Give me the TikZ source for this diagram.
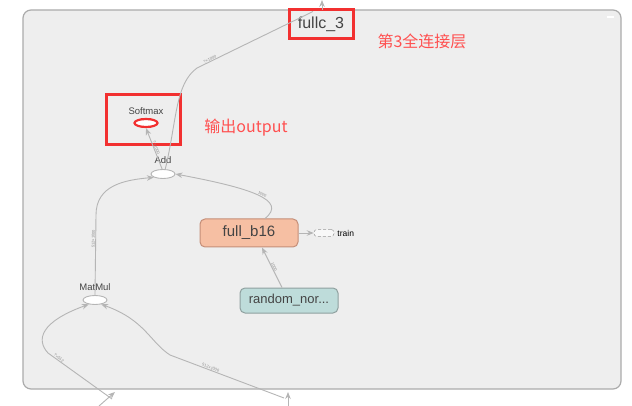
\documentclass[tikz,border=0pt]{standalone}
\usepackage{fontspec}
\setmainfont{Liberation Sans}
\newfontfamily\cjk{Noto Sans CJK SC}
\usetikzlibrary{arrows,arrows.meta,positioning,shapes.geometric,calc}

\definecolor{panelbg}{HTML}{EEEEEE}
\definecolor{paneldraw}{HTML}{ABABAB}
\definecolor{edgegray}{HTML}{B5B5B5}
\definecolor{boxred}{HTML}{F23030}
\definecolor{notered}{HTML}{FF5050}
\definecolor{biasfill}{HTML}{F6BFA3}
\definecolor{biasdraw}{HTML}{C48E78}
\definecolor{randfill}{HTML}{BEDCDA}
\definecolor{randdraw}{HTML}{8FA09F}
\definecolor{txtgray}{HTML}{444444}

\begin{document}
\begin{tikzpicture}[x=1pt, y=-1pt, >={Stealth[length=7pt,width=5.5pt]}]
	\tikzstyle{op}=[ellipse, draw=edgegray, fill=white, line width=0.9pt, minimum width=24pt, minimum height=9pt, inner sep=0pt]
	\tikzstyle{oplabel}=[font=\fontsize{9.5}{10}\selectfont, text=txtgray, inner sep=0pt]
	\tikzstyle{group}=[rounded corners=5pt, line width=1pt, minimum width=98pt, inner sep=0pt, text=txtgray]
	\tikzstyle{flow}=[->, draw=edgegray, line width=0.9pt]
	\tikzstyle{tensor}=[sloped, font=\fontsize{4}{4}\selectfont, text=gray!90, inner sep=0.5pt]
	\tikzstyle{redbox}=[draw=boxred, line width=3pt]
	\tikzstyle{note}=[text=notered, font=\cjk\fontsize{16}{17}\selectfont]

	\useasboundingbox (0,0) rectangle (632,406);
	% panel
	\draw[fill=panelbg, draw=paneldraw, line width=1.2pt, rounded corners=8pt] (23,10) rectangle (621,389);
	\draw[white, line width=1.2pt] (607,17) -- (614,17);

	% ops
	\node[op, draw=boxred, line width=2.2pt, minimum width=23pt, minimum height=8pt] (softmax) at (146,123) {};
	\node[oplabel] (softmaxl) at (146,111) {Softmax};
	\node[op]  (add) at (163,174) {};
	\node[oplabel] (addl) at (163,160) {Add};
	\node[op]  (matmul) at (95,300) {};
	\node[oplabel] (matmull) at (95,287) {MatMul};

	% groups
	\node[group, fill=biasfill, draw=biasdraw, minimum height=28pt, font=\fontsize{15}{16}\selectfont] (bias) at (249,233) {full\_b16};
	\node[group, fill=randfill, draw=randdraw, minimum height=25pt, font=\fontsize{13}{14}\selectfont] (rand) at (289,300.5) {random\_nor...};
	\node[draw=gray!80, densely dashed, rounded corners=3pt, minimum width=20pt, minimum height=7pt, inner sep=0pt, fill=white!60!panelbg, line width=0.5pt] (train) at (324,233) {};
	\node[font=\fontsize{8.5}{9}\selectfont, inner sep=0pt, right=3pt of train] (trainl) {train};

	% highlighted
	\node[redbox, minimum width=64pt, minimum height=29pt, inner sep=0pt, font=\fontsize{16}{17}\selectfont, text=txtgray] (fullc) at (321,24.5) {fullc\_3};
	\node[redbox, minimum width=74pt, minimum height=50pt] (outbox) at (143,120) {};
	\node[note] (fullcnote) at (422,41) {第3全连接层};
	\node[note] (outnote) at (246,128) {输出output};

	% loose ends outside the view
	\coordinate (fctop) at (313,11.5);
	\coordinate (upA) at (322,10);
	\coordinate (upB) at (322,0);
	\coordinate (inA) at (112,399);
	\coordinate (inAsrc) at (99,406);
	\coordinate (inAend) at (115,392);
	\coordinate (inB) at (284,398);
	\coordinate (inBsrc) at (288,406);
	\coordinate (inBend) at (288,392);

	% edges
	\draw[flow] (add.100) -- (softmax.south)
		node[tensor, pos=0.5, above] {?×1000};
	\draw[flow, -] (add.65) .. controls (177,120) and (175,84) .. (197,68)
		-- node[tensor, pos=0.12, above] {?×1000} (fctop);
	\draw[flow] (upA) -- (upB);
	\draw[flow] (matmul.north) -- (96,215)
		node[tensor, pos=0.7, above] {512×1000}
		.. controls (96,185) and (125,180) .. (add.200);
	\draw[flow] ([xshift=16pt]bias.north) .. controls (288,200) and (250,188) .. (add.east)
		node[tensor, pos=0.45, above] {1000};
	\draw[flow] (bias.east) -- (train.west);
	\draw[flow] ([xshift=-7pt]rand.north) -- ([xshift=13pt]bias.south)
		node[tensor, pos=0.5, above] {1000};
	\draw[flow] (inA) -- (48,353)
		node[tensor, pos=0.85, above] {?×512}
		.. controls (36,340) and (40,322) .. (matmul.215);
	\draw[flow] (inAsrc) -- (inAend);
	\draw[flow] (inB) -- (170,355)
		node[tensor, pos=0.65, above] {512×1000}
		.. controls (150,342) and (145,320) .. (matmul.-35);
	\draw[flow] (inBsrc) -- (inBend);
\end{tikzpicture}
\end{document}
